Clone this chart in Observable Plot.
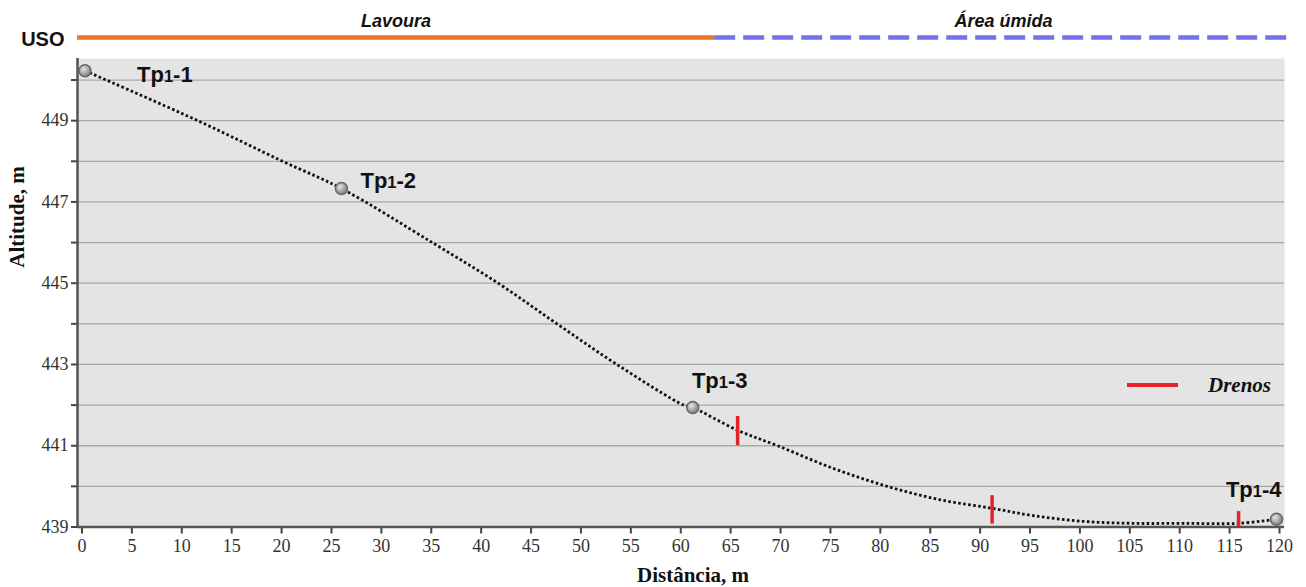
<!DOCTYPE html>
<html><head><meta charset="utf-8">
<script src="https://cdn.jsdelivr.net/npm/d3@7"></script>
<script src="https://cdn.jsdelivr.net/npm/@observablehq/plot@0.6"></script>
<style>body{margin:0;background:#fff} #chart{width:1306px;height:587px}</style>
</head><body><div id="chart"></div>
<script>
// ---- data ----
const profileX = [0.3, 11.6, 20.1, 26.0, 35.1, 41.7, 47.6, 53.6, 60.3, 61.2, 65.7, 69.7, 75.2, 80.7, 86.0, 91.2, 95.3, 100.3, 105.3, 110.4, 115.9, 119.7];
const profileY = [450.23, 449, 448, 447.33, 446, 445, 444, 443, 442, 441.94, 441.38, 441, 440.45, 440, 439.67, 439.46, 439.28, 439.14, 439.09, 439.09, 439.09, 439.19];
const pointNames = ["Tp1-1", "Tp1-2", "Tp1-3", "Tp1-4"];
const pointX = [0.3, 26.0, 61.2, 119.7];
const pointY = [450.23, 447.33, 441.94, 439.19];
const drainX = [65.7, 91.2, 115.9];
const drainTop = [441.72, 439.77, 439.38];
const drainBottom = [441.0, 439.07, 438.99];
const usoNames = ["Lavoura", "Área úmida"];
const usoStart = [-0.45, 63.4];
const usoEnd = [63.4, 121.3];
const xTicks = d3.range(0, 121, 5);
const yTicks = d3.range(439, 451, 1);
const yTickLabels = [439, 441, 443, 445, 447, 449];
const xDomain = [-0.45, 120.5];
const yDomain = [439, 450.53];

// ---- tables ----
const profile = profileX.map((x, i) => ({x, y: profileY[i]}));
const points = pointNames.map((name, i) => ({name, x: pointX[i], y: pointY[i]}));
const drains = drainX.map((x, i) => ({x, y1: drainBottom[i], y2: drainTop[i]}));
const uso = usoNames.map((name, i) => ({name, start: usoStart[i], end: usoEnd[i]}));

const sans = "'Liberation Sans', Arial, sans-serif";
const serif = "'Liberation Serif', 'Times New Roman', serif";
const orange = "#ef7324", blue = "#7272ec", red = "#e5222a";

const labelStyles = [
  {dx: 52, dy: 11, textAnchor: "start"},
  {dx: 19, dy: -1, textAnchor: "start"},
  {dx: 27, dy: -20, textAnchor: "middle"},
  {dx: 5, dy: -22, textAnchor: "end"}
];

const plot = Plot.plot({
  width: 1306, height: 587,
  marginLeft: 77, marginRight: 22, marginTop: 58, marginBottom: 60.5,
  x: {domain: xDomain},
  y: {domain: yDomain},
  style: {fontFamily: serif, fontSize: "18px", color: "#222", background: "#fff"},
  marks: [
    () => {
      const d = d3.create("svg:defs");
      const g = d.append("radialGradient").attr("id", "ball").attr("cx", "38%").attr("cy", "35%").attr("r", "70%");
      g.append("stop").attr("offset", "0%").attr("stop-color", "#e6e6e6");
      g.append("stop").attr("offset", "100%").attr("stop-color", "#747474");
      return d.node();
    },
    Plot.frame({fill: "#e4e4e4", stroke: null}),
    Plot.gridY(yTicks, {stroke: "#a8a8a8", strokeOpacity: 1, strokeWidth: 1.3}),
    Plot.axisY(yTicks, {tickSize: 6, tickFormat: () => "", label: null, stroke: "#444", strokeWidth: 2}),
    Plot.axisX(xTicks, {tickSize: 7, tickFormat: () => "", label: null, stroke: "#444", strokeWidth: 2}),
    Plot.text(yTickLabels, {y: d => d, frameAnchor: "left", dx: -9, textAnchor: "end", lineAnchor: "middle", text: d => String(d), fontFamily: serif, fontSize: 18, fill: "#333"}),
    Plot.text(xTicks, {x: d => d, frameAnchor: "bottom", dy: 12, lineAnchor: "top", text: d => String(d), fontFamily: serif, fontSize: 18, fill: "#333"}),
    Plot.ruleX([xDomain[0]], {stroke: "#555", strokeWidth: 2.5}),
    Plot.ruleY([yDomain[0]], {stroke: "#555", strokeWidth: 2.5}),
    Plot.line(profile, {x: "x", y: "y", curve: "catmull-rom", stroke: "#111", strokeWidth: 2.8, strokeDasharray: "2.6 2.4", strokeLinecap: "butt"}),
    Plot.ruleX(drains, {x: "x", y1: "y1", y2: "y2", stroke: red, strokeWidth: 3.5}),
    Plot.dot(points, {x: "x", y: "y", r: 6, fill: "url(#ball)", stroke: "#666", strokeWidth: 1.5}),
    ...labelStyles.map((s, i) => Plot.text([points[i]], {x: "x", y: "y", text: "name", lineAnchor: "bottom", fontFamily: sans, fontWeight: "bold", fontSize: 22, fill: "#111", className: "tplabel", ...s})),
    // land use bar
    Plot.ruleY([uso[0]], {x1: "start", x2: "end", y: () => yDomain[1], dy: -21, stroke: orange, strokeWidth: 4.5}),
    Plot.ruleY([uso[1]], {x1: "start", x2: "end", y: () => yDomain[1], dy: -21, stroke: blue, strokeWidth: 4.5, strokeDasharray: "21 8"}),
    Plot.text(uso, {x: d => (d.start + d.end) / 2, y: () => yDomain[1], dy: -32, text: "name", lineAnchor: "bottom", fontFamily: sans, fontStyle: "italic", fontWeight: "bold", fontSize: 18, fill: "#111"}),
    Plot.text(["USO"], {frameAnchor: "top-left", dx: -13, dy: -13, textAnchor: "end", lineAnchor: "bottom", fontFamily: sans, fontWeight: "bold", fontSize: 20, fill: "#111"}),
    // axis titles
    Plot.text(["Distância, m"], {frameAnchor: "bottom", dx: 12, dy: 55, lineAnchor: "bottom", fontFamily: serif, fontWeight: "bold", fontSize: 21, fill: "#111"}),
    Plot.text(["Altitude, m"], {frameAnchor: "left", dx: -60, dy: -25, rotate: -90, lineAnchor: "middle", fontFamily: serif, fontWeight: "bold", fontSize: 21, fill: "#111"}),
    // legend
    (index, scales, values, dims) => {
      const right = dims.width - dims.marginRight;
      const y = dims.marginTop + 327;
      const g = d3.create("svg:g");
      g.append("line").attr("x1", right - 157).attr("x2", right - 106).attr("y1", y).attr("y2", y).attr("stroke", red).attr("stroke-width", 4);
      g.append("text").attr("x", right - 76).attr("y", y + 7).attr("text-anchor", "start").attr("font-family", serif).attr("font-weight", "bold").attr("font-style", "italic").attr("font-size", 21).attr("fill", "#111").text("Drenos");
      return g.node();
    }
  ]
});

// small "1" in point names (Tp₁ style, baseline kept)
d3.select(plot).selectAll("g.tplabel text").each(function () {
  const t = this.textContent;
  const m = /^Tp(\d)(-\d)$/.exec(t);
  if (!m) return;
  const sel = d3.select(this);
  sel.text(null);
  sel.append("tspan").text("Tp");
  sel.append("tspan").attr("font-size", "75%").text(m[1]);
  sel.append("tspan").text(m[2]);
});

document.getElementById("chart").appendChild(plot);
</script>
</body></html>
